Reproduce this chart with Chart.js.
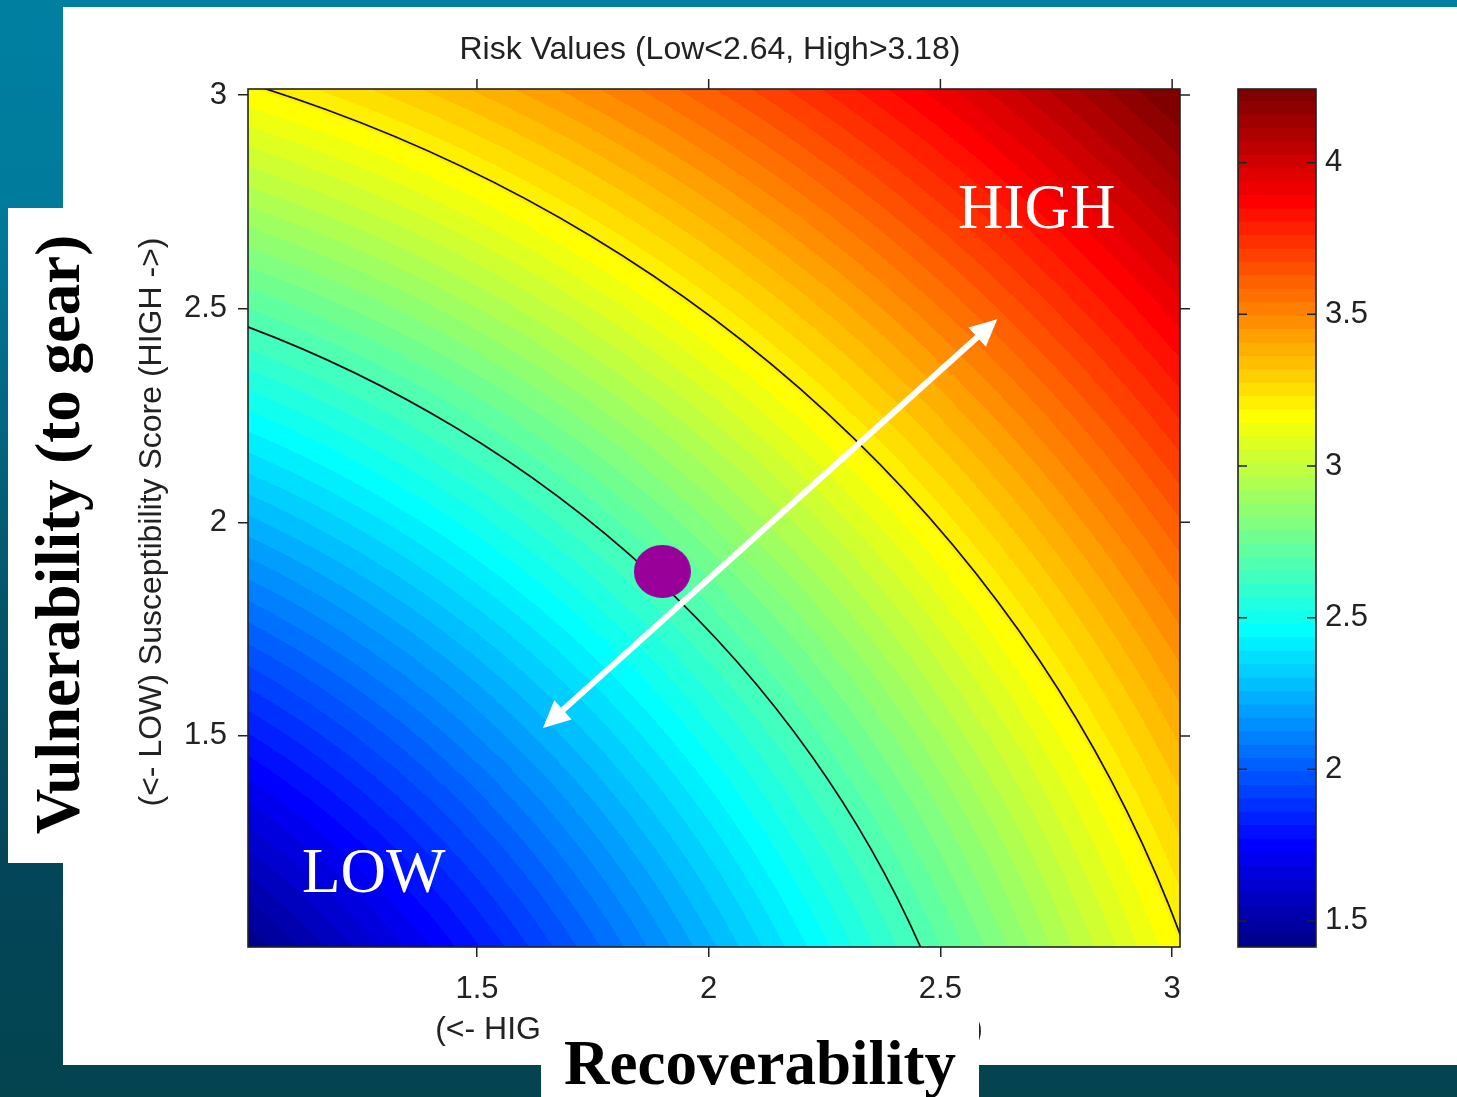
<!DOCTYPE html>
<html>
<head>
<meta charset="utf-8">
<script src="https://cdn.jsdelivr.net/npm/chart.js@4.4.1/dist/chart.umd.min.js"></script>
<style>
  html, body { margin: 0; padding: 0; }
  body {
    width: 1457px; height: 1097px; overflow: hidden; position: relative;
    background: linear-gradient(180deg, #0080a1 0%, #007b9b 18%, #03556b 55%, #03465a 78%, #03444f 100%);
  }
  #panel { position: absolute; left: 63px; top: 7px; width: 1394px; height: 1058px; background: #fff; }
  canvas { position: absolute; left: 0; top: 0; }
  .box { position: absolute; background: #fff; }
  .big {
    position: absolute; font-family: "Liberation Serif", "Times New Roman", serif;
    font-weight: bold; font-size: 63px; line-height: 63px; color: #000;
    white-space: nowrap; text-align: center;
  }
</style>
</head>
<body>
<div id="panel"></div>
<canvas id="main" width="1457" height="1097"></canvas>
<canvas id="cbar" width="1457" height="1097"></canvas>
<div class="box" style="left:8px;top:208px;width:55px;height:655px;"></div>
<div class="big" style="left:-292px;top:503px;width:700px;transform:rotate(-90deg);">Vulnerability (to gear)</div>
<div class="box" style="left:541px;top:1008px;width:438px;height:89px;overflow:hidden;">
  <div class="big" style="left:0;top:24px;width:438px;">Recoverability</div>
</div>
<script>
// axis ranges and ticks
const xRange = [1.006, 3.017];
const yRange = [1.006, 3.014];
const xTicks = [1.5, 2, 2.5, 3];
const yTicks = [1.5, 2, 2.5, 3];
const riskRange = [1.414, 4.243];
const barTicks = [1.5, 2, 2.5, 3, 3.5, 4];
const contourLevels = [2.655, 3.19];
const speciesPoint = [{ x: 1.9, y: 1.885 }];
const arrowEnds = [{ x: 1.652, y: 1.528 }, { x: 2.613, y: 2.466 }];

const titleText = 'Risk Values (Low<2.64, High>3.18)';
const xTitle = '(<- HIGH) Productivity Score (LOW ->)';
const yTitle = '(<- LOW) Susceptibility Score (HIGH ->)';

// risk = distance from origin of (productivity, susceptibility)
const riskOf = (p, s) => Math.sqrt(p * p + s * s);

// matlab jet(64)
function jet(m) {
  const n = Math.ceil(m / 4);
  const u = [];
  for (let i = 1; i <= n; i++) u.push(i / n);
  for (let i = 0; i < n - 1; i++) u.push(1);
  for (let i = n; i >= 1; i--) u.push(i / n);
  const g0 = Math.ceil(n / 2) - (m % 4 === 1 ? 1 : 0);
  const map = [];
  for (let i = 0; i < m; i++) map.push([0, 0, 0]);
  u.forEach((v, k) => {
    const g = g0 + k + 1, r = g + n, b = g - n;
    if (r >= 1 && r <= m) map[r - 1][0] = v;
    if (g >= 1 && g <= m) map[g - 1][1] = v;
    if (b >= 1 && b <= m) map[b - 1][2] = v;
  });
  return map.map(c => c.map(v => Math.round(v * 255)));
}
const palette = jet(64);
const colorIndex = v => {
  const t = (v - riskRange[0]) / (riskRange[1] - riskRange[0]);
  return Math.min(63, Math.max(0, Math.floor(t * 64)));
};

const tickFont = { family: '"Liberation Sans", Arial, sans-serif', size: 31 };
const ink = '#222';

function dotStyle() {
  const c = document.createElement('canvas');
  c.width = 57; c.height = 53;
  const g = c.getContext('2d');
  g.fillStyle = '#990099';
  g.beginPath();
  g.ellipse(28.5, 26.5, 28.5, 26.5, 0, 0, Math.PI * 2);
  g.fill();
  return c;
}

const heatPlugin = {
  id: 'heat',
  beforeDatasetsDraw(chart) {
    const { ctx, chartArea: a, scales: { x, y } } = chart;
    const L = Math.round(a.left), T = Math.round(a.top);
    const W = Math.round(a.right) - L, H = Math.round(a.bottom) - T;
    const img = ctx.createImageData(W, H);
    const xs = [];
    for (let i = 0; i < W; i++) xs.push(x.getValueForPixel(L + i + 0.5));
    for (let j = 0; j < H; j++) {
      const yv = y.getValueForPixel(T + j + 0.5);
      for (let i = 0; i < W; i++) {
        const c = palette[colorIndex(riskOf(xs[i], yv))];
        const k = (j * W + i) * 4;
        img.data[k] = c[0]; img.data[k + 1] = c[1]; img.data[k + 2] = c[2]; img.data[k + 3] = 255;
      }
    }
    ctx.putImageData(img, L, T);

    ctx.save();
    ctx.beginPath();
    ctx.rect(a.left, a.top, a.right - a.left, a.bottom - a.top);
    ctx.clip();
    ctx.strokeStyle = '#111';
    ctx.lineWidth = 1.7;
    const ox = x.getPixelForValue(0), oy = y.getPixelForValue(0);
    contourLevels.forEach(r => {
      ctx.beginPath();
      ctx.ellipse(ox, oy, x.getPixelForValue(r) - ox, oy - y.getPixelForValue(r), 0, 0, Math.PI * 2);
      ctx.stroke();
    });
    ctx.restore();
  },
  afterDatasetsDraw(chart) {
    const { ctx, chartArea: a, scales: { x, y } } = chart;
    // arrow heads
    const pts = chart.getDatasetMeta(1).data;
    const p0 = pts[0], p1 = pts[1];
    const len = Math.hypot(p1.x - p0.x, p1.y - p0.y);
    const dx = (p1.x - p0.x) / len, dy = (p1.y - p0.y) / len;
    ctx.save();
    ctx.fillStyle = '#fff';
    [[p1, 1], [p0, -1]].forEach(([p, s]) => {
      const tx = p.x + s * dx * 6, ty = p.y + s * dy * 6;
      const bx = tx - s * dx * 27, by = ty - s * dy * 27;
      ctx.beginPath();
      ctx.moveTo(tx, ty);
      ctx.lineTo(bx - dy * 13, by + dx * 13);
      ctx.lineTo(bx + dy * 13, by - dx * 13);
      ctx.closePath();
      ctx.fill();
    });
    // region labels
    ctx.font = '63px "Liberation Serif", "Times New Roman", serif';
    ctx.textAlign = 'left';
    ctx.textBaseline = 'alphabetic';
    ctx.fillText('HIGH', 958, 228);
    ctx.fillText('LOW', 302, 892);
    // frame
    ctx.strokeStyle = ink;
    ctx.lineWidth = 1.6;
    ctx.strokeRect(a.left, a.top, a.right - a.left, a.bottom - a.top);
    // mirrored outward ticks on top and right
    ctx.lineWidth = 1.5;
    ctx.beginPath();
    xTicks.forEach(v => {
      const px = x.getPixelForValue(v);
      ctx.moveTo(px, a.top); ctx.lineTo(px, a.top - 10);
    });
    yTicks.forEach(v => {
      const py = y.getPixelForValue(v);
      ctx.moveTo(a.right, py); ctx.lineTo(a.right + 10, py);
    });
    ctx.stroke();
    ctx.restore();
  },
  afterDraw(chart) {
    const { ctx } = chart;
    ctx.save();
    ctx.fillStyle = ink;
    ctx.font = '32px "Liberation Sans", Arial, sans-serif';
    ctx.textAlign = 'center';
    ctx.textBaseline = 'middle';
    ctx.fillText(titleText, 710, 50);
    ctx.fillText(xTitle, 709, 1030);
    ctx.translate(152, 522);
    ctx.rotate(-Math.PI / 2);
    ctx.fillText(yTitle, 0, 0);
    ctx.restore();
  }
};

new Chart(document.getElementById('main'), {
  type: 'scatter',
  data: {
    datasets: [
      {
        data: speciesPoint,
        pointStyle: dotStyle(),
        pointRadius: 27,
        backgroundColor: '#990099',
        borderWidth: 0
      },
      {
        data: arrowEnds,
        showLine: true,
        borderColor: '#fff',
        borderWidth: 6,
        pointRadius: 0
      }
    ]
  },
  options: {
    responsive: false,
    animation: false,
    events: [],
    layout: { padding: { left: 0, top: 89, right: 277, bottom: 0 } },
    plugins: { legend: { display: false }, tooltip: { enabled: false } },
    scales: {
      x: {
        type: 'linear', position: 'bottom', min: xRange[0], max: xRange[1],
        afterBuildTicks: s => { s.ticks = xTicks.map(v => ({ value: v })); },
        afterFit: s => { s.height = 150; },
        ticks: { font: tickFont, color: ink, padding: 14, maxRotation: 0, callback: v => String(v) },
        grid: { display: true, drawOnChartArea: false, drawTicks: true, tickLength: 10, color: ink, lineWidth: 1.5 },
        border: { display: false }
      },
      y: {
        type: 'linear', position: 'left', min: yRange[0], max: yRange[1],
        afterBuildTicks: s => { s.ticks = yTicks.map(v => ({ value: v })); },
        afterFit: s => { s.width = 248; },
        ticks: { font: tickFont, color: ink, padding: 11, callback: v => String(v) },
        grid: { display: true, drawOnChartArea: false, drawTicks: true, tickLength: 10, color: ink, lineWidth: 1.5 },
        border: { display: false }
      }
    }
  },
  plugins: [heatPlugin]
});

// colour bar: one floating bar per colour band
const bandEdges = palette.map((c, i) => riskRange[0] + (riskRange[1] - riskRange[0]) * i / 64);
const bandSets = palette.map((c, i) => ({
  data: [[bandEdges[i], i === 63 ? riskRange[1] : bandEdges[i] + (riskRange[1] - riskRange[0]) / 64 + 0.003]],
  backgroundColor: `rgb(${c[0]},${c[1]},${c[2]})`,
  borderWidth: 0,
  barPercentage: 1,
  categoryPercentage: 1,
  grouped: false
}));

const barFrame = {
  id: 'barFrame',
  afterDatasetsDraw(chart) {
    const { ctx, chartArea: a, scales: { y } } = chart;
    ctx.save();
    ctx.strokeStyle = ink;
    ctx.lineWidth = 1.6;
    ctx.strokeRect(a.left, a.top, a.right - a.left, a.bottom - a.top);
    ctx.lineWidth = 1.5;
    ctx.beginPath();
    barTicks.forEach(v => {
      const py = y.getPixelForValue(v);
      ctx.moveTo(a.left, py); ctx.lineTo(a.left + 9, py);
      ctx.moveTo(a.right, py); ctx.lineTo(a.right - 9, py);
    });
    ctx.stroke();
    ctx.restore();
  }
};

new Chart(document.getElementById('cbar'), {
  type: 'bar',
  data: { labels: ['risk'], datasets: bandSets },
  options: {
    responsive: false,
    animation: false,
    events: [],
    layout: { padding: { left: 1238, top: 89, right: 0, bottom: 150 } },
    plugins: { legend: { display: false }, tooltip: { enabled: false } },
    scales: {
      x: { display: false },
      y: {
        position: 'right', min: riskRange[0], max: riskRange[1],
        afterBuildTicks: s => { s.ticks = barTicks.map(v => ({ value: v })); },
        afterFit: s => { s.width = 141; },
        ticks: { font: tickFont, color: ink, padding: 9, callback: v => String(v) },
        grid: { display: false, drawTicks: false },
        border: { display: false }
      }
    }
  },
  plugins: [barFrame]
});
</script>
</body>
</html>
